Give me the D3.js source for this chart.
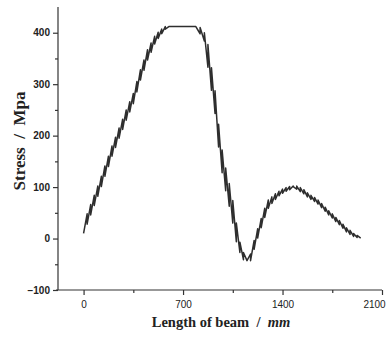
<!DOCTYPE html>
<html>
<head>
<meta charset="utf-8">
<script src="https://cdn.jsdelivr.net/npm/d3@7"></script>
<style>
  html, body { margin: 0; padding: 0; background: #fff; }
  svg { display: block; }
</style>
</head>
<body>
<svg id="chart" width="390" height="337"></svg>
<script>
// Beam length (mm) and stress (MPa) along the polyline (element start/end values, jumps at nodes)
const lengthMm = [
  0,25, 25,50, 50,75, 75,100, 100,125, 125,150, 150,175, 175,200,
  200,225, 225,250, 250,275, 275,300, 300,325, 325,350, 350,375, 375,400,
  400,425, 425,450, 450,475, 475,500, 500,525, 525,550, 550,575, 575,600,
  600,790, 790,820, 820,850,
  850,875, 875,900, 900,925, 925,950, 950,975, 975,1000, 1000,1025, 1025,1050,
  1050,1075, 1075,1100, 1100,1125, 1125,1150, 1150,1175, 1175,1200,
  1200,1225, 1225,1250, 1250,1275, 1275,1300, 1300,1325, 1325,1350, 1350,1375,
  1375,1400, 1400,1425, 1425,1450, 1450,1475, 1475,1500, 1500,1525, 1525,1550,
  1550,1575, 1575,1600, 1600,1625, 1625,1650, 1650,1675, 1675,1700, 1700,1725,
  1725,1750, 1750,1775, 1775,1800, 1800,1825, 1825,1850, 1850,1875, 1875,1900,
  1900,1925, 1925,1950
];
const stressMpa = [
  10,48, 28,66, 46,84, 64,102, 82,121, 101,141, 121,160, 140,180,
  160,197, 177,215, 195,232, 212,250, 230,266, 246,282, 262,305, 285,328,
  308,347, 327,367, 347,380, 362,393, 378,401, 389,407, 398,412, 407,412,
  412,412, 412,398, 410,384,
  400,333, 377,288, 332,243, 287,178, 222,128, 172,93, 137,63, 107,30,
  74,-6, 30,-27, -7,-41, -27,-43, -43,-30, -43,-4,
  -21,19, 1,39, 21,59, 41,75, 59,81, 68,87, 76,92,
  83,96, 88,99, 92,101, 95,102, 101,96, 102,91, 99,87,
  95,81, 89,76, 84,72, 80,67, 75,60, 68,53, 61,46,
  54,40, 48,33, 41,27, 35,20, 28,13, 21,8, 16,4,
  10,2, 6,1
];
const xMajorTicks = [0, 700, 1400, 2100];
const xMinorTicks = [350, 1050, 1750];
const yMajorTicks = [-100, 0, 100, 200, 300, 400];
const yMinorTicks = [-50, 50, 150, 250, 350];

const svg = d3.select("#chart");
const x = d3.scaleLinear().domain([-180, 2100]).range([58, 382]);
const y = d3.scaleLinear().domain([-100, 450]).range([290, 7]);

const axisColor = "#333";

// X axis
const gx = svg.append("g").attr("transform", "translate(0,290)");
gx.call(d3.axisBottom(x).tickValues(xMajorTicks).tickSize(5).tickPadding(6).tickFormat(d3.format("d")));
gx.append("g").call(d3.axisBottom(x).tickValues(xMinorTicks).tickSize(3).tickFormat(""))
  .select(".domain").remove();
gx.select(".domain").attr("d", `M${x(-180) - 2},0H${x(2100)}`);
gx.selectAll(".tick text").filter(d => d === 2100).attr("dx", -8);

// Y axis
const gy = svg.append("g").attr("transform", `translate(${x(-180)},0)`);
gy.call(d3.axisLeft(y).tickValues(yMajorTicks).tickSize(5).tickPadding(3).tickFormat(d3.format("d")));
gy.append("g").call(d3.axisLeft(y).tickValues(yMinorTicks).tickSize(3).tickFormat(""))
  .select(".domain").remove();
gy.select(".domain").attr("d", `M0,${y(-100)}V${y(450)}`);

svg.selectAll(".domain, .tick line").attr("stroke", axisColor).attr("stroke-width", 1.2);
svg.selectAll(".tick text").attr("font-family", "Liberation Sans, Arial, sans-serif")
  .attr("font-size", 10).attr("fill", "#222");
gy.selectAll(".tick text").attr("font-weight", "bold");

// Line
const pts = lengthMm.map((d, i) => [d, stressMpa[i]]);
svg.append("path")
  .datum(pts)
  .attr("fill", "none")
  .attr("stroke", "#2e2e2e")
  .attr("stroke-width", 1.5)
  .attr("stroke-linejoin", "round")
  .attr("d", d3.line().x(d => x(d[0])).y(d => y(d[1])));

// Axis titles
const xt = svg.append("text")
  .attr("x", 221).attr("y", 327)
  .attr("text-anchor", "middle")
  .attr("font-family", "Liberation Serif, Times New Roman, serif")
  .attr("font-weight", "bold").attr("font-size", 14.5).attr("fill", "#222")
  .attr("xml:space", "preserve");
xt.append("tspan").text("Length of beam  /  ");
xt.append("tspan").attr("font-style", "italic").text("mm");

svg.append("text")
  .attr("transform", "translate(25,141) rotate(-90)")
  .attr("text-anchor", "middle")
  .attr("font-family", "Liberation Serif, Times New Roman, serif")
  .attr("font-weight", "bold").attr("font-size", 17).attr("fill", "#222")
  .attr("xml:space", "preserve")
  .text("Stress  /  Mpa");
</script>
</body>
</html>
